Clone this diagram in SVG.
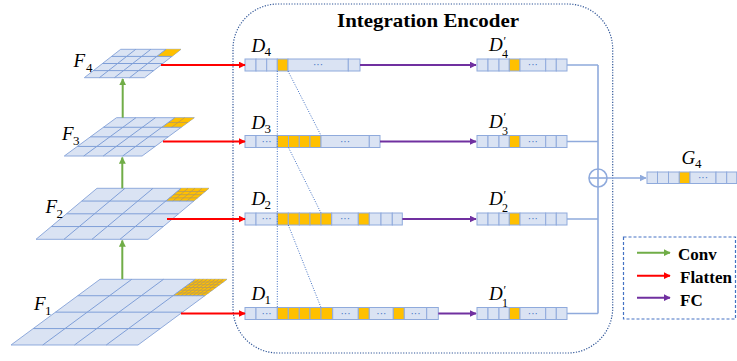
<svg xmlns="http://www.w3.org/2000/svg" width="737" height="361" viewBox="0 0 737 361">
<style>
.pl{fill:#dae3f3;stroke:#8faadc;stroke-width:1;vector-effect:non-scaling-stroke}
.gl{fill:none;stroke:#7f9fd8;stroke-width:1;vector-effect:non-scaling-stroke}
.or{fill:#ffc000;stroke:none}
.ol{fill:none;stroke:#b89a5a;stroke-width:0.8;vector-effect:non-scaling-stroke}
.c{fill:#dae3f3;stroke:#8faadc;stroke-width:1}
.o{fill:#ffc000;stroke:#8faadc;stroke-width:1}
.dt{font-family:"Liberation Sans",Arial,sans-serif;font-size:10px;fill:#4472c4;text-anchor:middle}
.lb{font-family:"Liberation Serif","Times New Roman",serif;font-style:italic;font-size:19px;fill:#000}
.sb{font-family:"Liberation Serif","Times New Roman",serif;font-size:13px;fill:#000}
.ps{font-family:"Liberation Serif","Times New Roman",serif;font-size:12px;fill:#000}
.pr{font-family:"Liberation Serif","Times New Roman",serif;font-size:12px;fill:#000}
.bt{font-family:"Liberation Serif","Times New Roman",serif;font-weight:bold;fill:#000}
.red{stroke:#ff0000;stroke-width:2;fill:none;marker-end:url(#mr)}
.pur{stroke:#7030a0;stroke-width:2;fill:none;marker-end:url(#mp)}
.grn{stroke:#70ad47;stroke-width:2;fill:none;marker-end:url(#mg)}
.blu{stroke:#8faadc;stroke-width:1.6;fill:none}
.dl{stroke:#4472c4;stroke-width:1;stroke-dasharray:1 1.5;fill:none}
</style>
<defs>
<marker id="mr" viewBox="0 0 10 10" refX="9" refY="5" markerWidth="7" markerHeight="7" markerUnits="userSpaceOnUse" orient="auto"><path d="M0 0L10 5L0 10z" fill="#ff0000"/></marker>
<marker id="mp" viewBox="0 0 10 10" refX="9" refY="5" markerWidth="7" markerHeight="7" markerUnits="userSpaceOnUse" orient="auto"><path d="M0 0L10 5L0 10z" fill="#7030a0"/></marker>
<marker id="mg" viewBox="0 0 10 10" refX="9" refY="5" markerWidth="7" markerHeight="7" markerUnits="userSpaceOnUse" orient="auto"><path d="M0 0L10 5L0 10z" fill="#70ad47"/></marker>
<marker id="mb" viewBox="0 0 10 10" refX="9" refY="5" markerWidth="7" markerHeight="7" markerUnits="userSpaceOnUse" orient="auto"><path d="M0 0L10 5L0 10z" fill="#8faadc"/></marker>
</defs>
<rect width="737" height="361" fill="#fff"/>

<g id="encoder-box">
<rect x="233" y="4" width="379.7" height="349" rx="45" ry="45" fill="none" stroke="#2f5597" stroke-width="1.2" stroke-dasharray="1.2 1.5"/>
<text class="bt" x="337" y="27" font-size="19" textLength="182" lengthAdjust="spacingAndGlyphs">Integration Encoder</text>
</g>

<g id="F4">
<g transform="matrix(15.075,0,-9.1,7.1,120.7,49.3)">
<rect class="pl" x="0" y="0" width="4" height="4"/>
<rect class="or" x="3" y="0" width="1" height="1"/>
<path class="gl" d="M0 1H4M0 2H4M0 3H4M1 0V4M2 0V4M3 0V4"/>
</g>
<text class="lb" x="73.5" y="67">F</text><text class="sb" x="86" y="71.5">4</text>
</g>

<g id="F3">
<g transform="matrix(19.45,0,-13.05,9.575,116.5,117.7)">
<rect class="pl" x="0" y="0" width="4" height="4"/>
<rect class="or" x="3" y="0" width="1" height="1"/>
<path class="ol" d="M3 0.5H4M3.5 0V1"/>
<path class="gl" d="M0 1H4M0 2H4M0 3H4M1 0V4M2 0V4M3 0V4"/>
</g>
<text class="lb" x="62" y="140">F</text><text class="sb" x="73" y="144.5">3</text>
</g>

<g id="F2">
<g transform="matrix(28,0,-15.25,12.75,97,188.3)">
<rect class="pl" x="0" y="0" width="4" height="4"/>
<rect class="or" x="3" y="0" width="1" height="1"/>
<path class="ol" d="M3 0.25H4M3 0.5H4M3 0.75H4M3.25 0V1M3.5 0V1M3.75 0V1"/>
<path class="gl" d="M0 1H4M0 2H4M0 3H4M1 0V4M2 0V4M3 0V4"/>
</g>
<text class="lb" x="45.5" y="213">F</text><text class="sb" x="56.5" y="217.5">2</text>
</g>

<g id="F1">
<g transform="matrix(31.75,0,-22.25,16.425,100,279.3)">
<rect class="pl" x="0" y="0" width="4" height="4"/>
<rect class="or" x="3" y="0" width="1" height="1"/>
<path class="ol" d="M3 0.1667H4M3 0.3333H4M3 0.5H4M3 0.6667H4M3 0.8333H4M3.125 0V1M3.25 0V1M3.375 0V1M3.5 0V1M3.625 0V1M3.75 0V1M3.875 0V1"/>
<path class="gl" d="M0 1H4M0 2H4M0 3H4M1 0V4M2 0V4M3 0V4"/>
</g>
<text class="lb" x="34" y="310">F</text><text class="sb" x="45" y="314.5">1</text>
</g>

<g id="D4">
<rect class="c" x="245" y="59" width="11" height="12"/>
<rect class="c" x="256" y="59" width="10.7" height="12"/>
<rect class="c" x="266.7" y="59" width="10.6" height="12"/>
<rect class="o" x="277.3" y="59" width="10.7" height="12"/>
<rect class="c" x="288" y="59" width="60.3" height="12"/>
<rect class="c" x="348.3" y="59" width="11.7" height="12"/>
<text class="dt" x="318" y="68">···</text>
<text class="lb" x="251.5" y="51.5">D</text><text class="sb" x="264.5" y="55.5">4</text>
</g>

<g id="D3">
<rect class="c" x="245" y="135.5" width="11" height="12"/>
<rect class="c" x="256" y="135.5" width="21.3" height="12"/>
<rect class="o" x="277.3" y="135.5" width="11.2" height="12"/>
<rect class="o" x="288.5" y="135.5" width="10.8" height="12"/>
<rect class="o" x="299.3" y="135.5" width="10.7" height="12"/>
<rect class="o" x="310" y="135.5" width="11" height="12"/>
<rect class="c" x="321" y="135.5" width="48.3" height="12"/>
<rect class="c" x="369.3" y="135.5" width="10.7" height="12"/>
<text class="dt" x="266.6" y="144.5">···</text>
<text class="dt" x="345" y="144.5">···</text>
<text class="lb" x="251.5" y="128.5">D</text><text class="sb" x="264.5" y="132.5">3</text>
</g>

<g id="D2">
<rect class="c" x="245" y="213" width="11" height="12"/>
<rect class="c" x="256" y="213" width="21.3" height="12"/>
<rect class="o" x="277.3" y="213" width="11" height="12"/>
<rect class="o" x="288.3" y="213" width="11" height="12"/>
<rect class="o" x="299.3" y="213" width="10.7" height="12"/>
<rect class="o" x="310" y="213" width="11" height="12"/>
<rect class="o" x="321" y="213" width="10.7" height="12"/>
<rect class="c" x="331.7" y="213" width="26.6" height="12"/>
<rect class="o" x="358.3" y="213" width="11" height="12"/>
<rect class="c" x="369.3" y="213" width="11.7" height="12"/>
<rect class="c" x="381" y="213" width="11.3" height="12"/>
<rect class="c" x="392.3" y="213" width="10" height="12"/>
<text class="dt" x="266.6" y="222">···</text>
<text class="dt" x="345" y="222">···</text>
<text class="lb" x="251.5" y="205">D</text><text class="sb" x="264.5" y="209">2</text>
</g>

<g id="D1">
<rect class="c" x="245" y="307.5" width="11" height="12"/>
<rect class="c" x="256" y="307.5" width="21.3" height="12"/>
<rect class="o" x="277.3" y="307.5" width="11" height="12"/>
<rect class="o" x="288.3" y="307.5" width="11" height="12"/>
<rect class="o" x="299.3" y="307.5" width="10.7" height="12"/>
<rect class="o" x="310" y="307.5" width="11" height="12"/>
<rect class="o" x="321" y="307.5" width="11.7" height="12"/>
<rect class="c" x="332.7" y="307.5" width="25.6" height="12"/>
<rect class="o" x="358.3" y="307.5" width="11" height="12"/>
<rect class="c" x="369.3" y="307.5" width="24" height="12"/>
<rect class="o" x="393.3" y="307.5" width="11" height="12"/>
<rect class="c" x="404.3" y="307.5" width="22.4" height="12"/>
<rect class="c" x="426.7" y="307.5" width="11.6" height="12"/>
<text class="dt" x="266.6" y="316.5">···</text>
<text class="dt" x="345.5" y="316.5">···</text>
<text class="dt" x="381.3" y="316.5">···</text>
<text class="dt" x="415.5" y="316.5">···</text>
<text class="lb" x="251.5" y="300">D</text><text class="sb" x="264.5" y="304">1</text>
</g>

<g id="D4p">
<rect class="c" x="477" y="59" width="11" height="12"/>
<rect class="c" x="488" y="59" width="11" height="12"/>
<rect class="c" x="499" y="59" width="10.3" height="12"/>
<rect class="o" x="509.3" y="59" width="10.7" height="12"/>
<rect class="c" x="520" y="59" width="25.7" height="12"/>
<rect class="c" x="545.7" y="59" width="10.6" height="12"/>
<rect class="c" x="556.3" y="59" width="10.7" height="12"/>
<text class="dt" x="532.8" y="68">···</text>
<text class="lb" x="489" y="51">D</text><text class="pr" x="503.5" y="44.5">′</text><text class="ps" x="502" y="58">4</text>
</g>

<g id="D3p">
<rect class="c" x="477" y="135.5" width="11" height="12"/>
<rect class="c" x="488" y="135.5" width="11" height="12"/>
<rect class="c" x="499" y="135.5" width="10.3" height="12"/>
<rect class="o" x="509.3" y="135.5" width="10.7" height="12"/>
<rect class="c" x="520" y="135.5" width="25.7" height="12"/>
<rect class="c" x="545.7" y="135.5" width="10.6" height="12"/>
<rect class="c" x="556.3" y="135.5" width="10.7" height="12"/>
<text class="dt" x="532.8" y="144.5">···</text>
<text class="lb" x="489" y="127.5">D</text><text class="pr" x="503.5" y="121">′</text><text class="ps" x="502" y="134.5">3</text>
</g>

<g id="D2p">
<rect class="c" x="477" y="213" width="11" height="12"/>
<rect class="c" x="488" y="213" width="11" height="12"/>
<rect class="c" x="499" y="213" width="10.3" height="12"/>
<rect class="o" x="509.3" y="213" width="10.7" height="12"/>
<rect class="c" x="520" y="213" width="25.7" height="12"/>
<rect class="c" x="545.7" y="213" width="10.6" height="12"/>
<rect class="c" x="556.3" y="213" width="10.7" height="12"/>
<text class="dt" x="532.8" y="222">···</text>
<text class="lb" x="489" y="205">D</text><text class="pr" x="503.5" y="198.5">′</text><text class="ps" x="502" y="212">2</text>
</g>

<g id="D1p">
<rect class="c" x="477" y="307.5" width="11" height="12"/>
<rect class="c" x="488" y="307.5" width="11" height="12"/>
<rect class="c" x="499" y="307.5" width="10.3" height="12"/>
<rect class="o" x="509.3" y="307.5" width="10.7" height="12"/>
<rect class="c" x="520" y="307.5" width="25.7" height="12"/>
<rect class="c" x="545.7" y="307.5" width="10.6" height="12"/>
<rect class="c" x="556.3" y="307.5" width="10.7" height="12"/>
<text class="dt" x="532.8" y="316.5">···</text>
<text class="lb" x="489" y="300">D</text><text class="pr" x="503.5" y="293.5">′</text><text class="ps" x="502" y="307">1</text>
</g>

<g id="G4">
<rect class="c" x="647" y="172" width="10.5" height="11.5"/>
<rect class="c" x="657.5" y="172" width="11" height="11.5"/>
<rect class="c" x="668.5" y="172" width="10.8" height="11.5"/>
<rect class="o" x="679.3" y="172" width="10.7" height="11.5"/>
<rect class="c" x="690" y="172" width="26" height="11.5"/>
<rect class="c" x="716" y="172" width="10.7" height="11.5"/>
<rect class="c" x="726.7" y="172" width="10" height="11.5"/>
<text class="dt" x="703" y="180.5">···</text>
<text class="lb" x="681.5" y="164">G</text><text class="sb" x="695" y="168">4</text>
</g>

<g id="sum">
<circle cx="598" cy="178" r="9" fill="none" stroke="#8faadc" stroke-width="1.6"/>
<path class="blu" d="M589 178H607"/>
</g>

<g id="connectors">
<path class="grn" d="M122.3 279V240.5"/>
<path class="grn" d="M122.3 188.3V157.5"/>
<path class="grn" d="M122.7 117.7V79"/>
<path class="red" d="M161 65H245"/>
<path class="red" d="M163 141.5H245"/>
<path class="red" d="M167 219H245"/>
<path class="red" d="M181 313.5H245"/>
<path class="pur" d="M360 65H476"/>
<path class="pur" d="M380 141.5H476"/>
<path class="pur" d="M402.3 219H476"/>
<path class="pur" d="M438.3 313.5H476"/>
<path class="dl" d="M277.3 71V307.5"/>
<path class="dl" d="M288 71L321 135.5"/>
<path class="dl" d="M288.5 147.5L321 213"/>
<path class="dl" d="M288.3 225L321 307.5"/>
<path class="blu" d="M567 65H598M567 141.5H598M567 219H598M567 313.5H598M598 65V313.5"/>
<path class="blu" d="M607 178H646" marker-end="url(#mb)"/>
</g>

<g id="legend">
<rect x="623.5" y="237" width="112" height="82" fill="none" stroke="#4472c4" stroke-width="1.2" stroke-dasharray="3 2"/>
<path class="grn" d="M637 252.7H670"/>
<path class="red" d="M637 275.7H670"/>
<path class="pur" d="M637 297.7H670"/>
<text class="bt" x="678" y="260" font-size="17">Conv</text>
<text class="bt" x="680" y="282.5" font-size="17">Flatten</text>
<text class="bt" x="680" y="305.5" font-size="17">FC</text>
</g>
</svg>
